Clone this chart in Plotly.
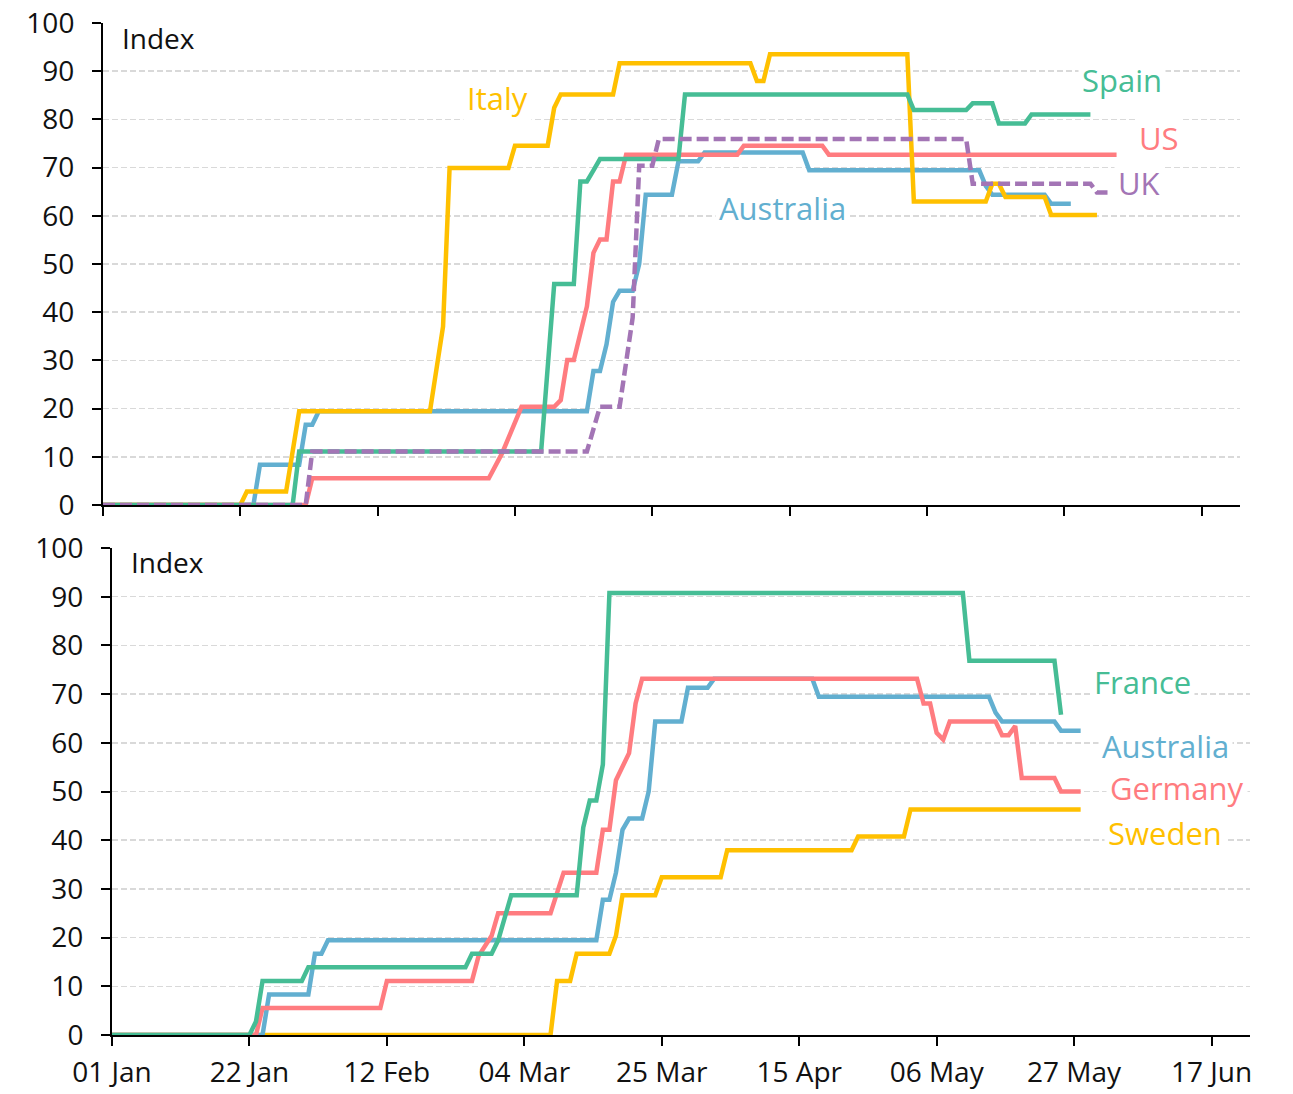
import plotly.graph_objects as go

W, H = 1293, 1094
FONT = "Open Sans"

# ---------------- Top panel data ----------------
italy_dates = ["2020-01-01", "2020-01-22", "2020-01-23", "2020-01-29", "2020-01-31", "2020-02-20",
               "2020-02-22", "2020-02-23", "2020-03-03", "2020-03-04", "2020-03-09", "2020-03-10",
               "2020-03-11", "2020-03-19", "2020-03-20", "2020-04-09", "2020-04-10", "2020-04-11",
               "2020-04-12", "2020-05-03", "2020-05-04", "2020-05-15", "2020-05-16", "2020-05-17",
               "2020-05-18", "2020-05-24", "2020-05-25", "2020-06-01"]
italy_vals = [0, 0, 2.78, 2.78, 19.44, 19.44,
              37.04, 69.91, 69.91, 74.54, 74.54, 82.41,
              85.19, 85.19, 91.67, 91.67, 87.96, 87.96,
              93.52, 93.52, 62.96, 62.96, 66.67, 66.67,
              63.89, 63.89, 60.19, 60.19]

spain_dates = ["2020-01-01", "2020-01-30", "2020-01-31", "2020-03-08", "2020-03-10", "2020-03-13",
               "2020-03-14", "2020-03-15", "2020-03-16", "2020-03-17", "2020-03-29", "2020-03-30",
               "2020-05-03", "2020-05-04", "2020-05-12", "2020-05-13", "2020-05-16", "2020-05-17",
               "2020-05-21", "2020-05-22", "2020-05-31"]
spain_vals = [0, 0, 11.11, 11.11, 45.83, 45.83,
              67.13, 67.13, 69.44, 71.76, 71.76, 85.19,
              85.19, 81.94, 81.94, 83.33, 83.33, 79.17,
              79.17, 81.02, 81.02]

us_dates = ["2020-01-01", "2020-02-01", "2020-02-02", "2020-02-29", "2020-03-02", "2020-03-05",
            "2020-03-10", "2020-03-11", "2020-03-12", "2020-03-13", "2020-03-15", "2020-03-16",
            "2020-03-17", "2020-03-18", "2020-03-19", "2020-03-20", "2020-03-21", "2020-04-07",
            "2020-04-08", "2020-04-20", "2020-04-21", "2020-06-04"]
us_vals = [0, 0, 5.56, 5.56, 10.65, 20.37,
           20.37, 21.76, 30.09, 30.09, 41.2, 52.31,
           55.09, 55.09, 67.13, 67.13, 72.69, 72.69,
           74.54, 74.54, 72.69, 72.69]

uk_dates = ["2020-01-01", "2020-02-01", "2020-02-02", "2020-03-15", "2020-03-17", "2020-03-20",
            "2020-03-22", "2020-03-23", "2020-03-25", "2020-03-26", "2020-05-12", "2020-05-13",
            "2020-05-31", "2020-06-01", "2020-06-03"]
uk_vals = [0, 0, 11.11, 11.11, 20.37, 20.37,
           38.89, 70.37, 70.37, 75.93, 75.93, 66.67,
           66.67, 64.81, 64.81]

# Australia appears in both panels
aus_dates = ["2020-01-01", "2020-01-24", "2020-01-25", "2020-01-31", "2020-02-01", "2020-02-02",
             "2020-02-03", "2020-03-15", "2020-03-16", "2020-03-17", "2020-03-18", "2020-03-19",
             "2020-03-20", "2020-03-22", "2020-03-23", "2020-03-24", "2020-03-28", "2020-03-29",
             "2020-04-01", "2020-04-02", "2020-04-17", "2020-04-18", "2020-05-14", "2020-05-15",
             "2020-05-16", "2020-05-24", "2020-05-25", "2020-05-28"]
aus_vals = [0, 0, 8.33, 8.33, 16.67, 16.67,
            19.44, 19.44, 27.78, 27.78, 33.33, 42.13,
            44.44, 44.44, 50.0, 64.35, 64.35, 71.3,
            71.3, 73.15, 73.15, 69.44, 69.44, 66.2,
            64.35, 64.35, 62.5, 62.5]

# ---------------- Bottom panel data ----------------
france_dates = ["2020-01-01", "2020-01-22", "2020-01-23", "2020-01-24", "2020-01-30", "2020-01-31",
                "2020-02-24", "2020-02-25", "2020-02-28", "2020-02-29", "2020-03-02", "2020-03-12",
                "2020-03-13", "2020-03-14", "2020-03-15", "2020-03-16", "2020-03-17", "2020-05-10",
                "2020-05-11", "2020-05-24", "2020-05-25"]
france_vals = [0, 0, 2.78, 11.11, 11.11, 13.89,
               13.89, 16.67, 16.67, 19.44, 28.7, 28.7,
               42.59, 48.15, 48.15, 55.56, 90.74, 90.74,
               76.85, 76.85, 65.74]

germany_dates = ["2020-01-01", "2020-01-23", "2020-01-24", "2020-02-11", "2020-02-12", "2020-02-25",
                 "2020-02-26", "2020-02-28", "2020-02-29", "2020-03-08", "2020-03-10", "2020-03-15",
                 "2020-03-16", "2020-03-17", "2020-03-18", "2020-03-20", "2020-03-21", "2020-03-22",
                 "2020-05-03", "2020-05-04", "2020-05-05", "2020-05-06", "2020-05-07", "2020-05-08",
                 "2020-05-15", "2020-05-16", "2020-05-17", "2020-05-18", "2020-05-19", "2020-05-24",
                 "2020-05-25", "2020-05-28"]
germany_vals = [0, 0, 5.56, 5.56, 11.11, 11.11,
                16.2, 20.37, 25.0, 25.0, 33.33, 33.33,
                42.13, 42.13, 52.31, 57.87, 68.06, 73.15,
                73.15, 68.06, 68.06, 62.04, 60.65, 64.35,
                64.35, 61.57, 61.57, 63.43, 52.78, 52.78,
                50.0, 50.0]

sweden_dates = ["2020-01-01", "2020-03-08", "2020-03-09", "2020-03-11", "2020-03-12", "2020-03-17",
                "2020-03-18", "2020-03-19", "2020-03-24", "2020-03-25", "2020-04-03", "2020-04-04",
                "2020-04-23", "2020-04-24", "2020-05-01", "2020-05-02", "2020-05-28"]
sweden_vals = [0, 0, 11.11, 11.11, 16.67, 16.67,
               20.37, 28.7, 28.7, 32.41, 32.41, 37.96,
               37.96, 40.74, 40.74, 46.3, 46.3]

tick_dates = ["2020-01-01", "2020-01-22", "2020-02-12", "2020-03-04", "2020-03-25",
              "2020-04-15", "2020-05-06", "2020-05-27", "2020-06-17"]
tick_text = ["01 Jan", "22 Jan", "12 Feb", "04 Mar", "25 Mar", "15 Apr", "06 May", "27 May", "17 Jun"]
y_ticks = list(range(0, 101, 10))

YELLOW = "#FFC000"
GREEN = "#46BD95"
PINK = "#FF7C80"
BLUE = "#62AFD0"
PURPLE = "#A375B5"
LW = 4.5

fig = go.Figure()


def add(dates, vals, color, xa, ya, dash="solid"):
    fig.add_trace(go.Scatter(x=dates, y=vals, mode="lines",
                             line=dict(color=color, width=LW, dash=dash),
                             xaxis=xa, yaxis=ya, showlegend=False,
                             hoverinfo="skip", cliponaxis=False))


# top panel (draw order matters for overlaps)
add(aus_dates, aus_vals, BLUE, "x", "y")
add(us_dates, us_vals, PINK, "x", "y")
add(italy_dates, italy_vals, YELLOW, "x", "y")
add(spain_dates, spain_vals, GREEN, "x", "y")
add(uk_dates, uk_vals, PURPLE, "x", "y", dash="12px,5px")

# bottom panel
add(sweden_dates, sweden_vals, YELLOW, "x2", "y2")
add(aus_dates, aus_vals, BLUE, "x2", "y2")
add(germany_dates, germany_vals, PINK, "x2", "y2")
add(france_dates, france_vals, GREEN, "x2", "y2")

x_range = ["2020-01-01", "2020-06-22 21:00"]


def fx(px):
    return px / W


def fy(py):
    return 1 - py / H


common_x = dict(range=x_range, tickvals=tick_dates, ticks="outside", ticklen=9, tickwidth=2,
                tickcolor="black", showline=True, linecolor="black", linewidth=2,
                showgrid=False, zeroline=False, fixedrange=True, automargin=False)
common_y = dict(range=[0, 100], tickvals=y_ticks, ticks="outside", ticklen=9, tickwidth=2,
                tickcolor="black", showline=True, linecolor="black", linewidth=2,
                showgrid=True, gridcolor="#D9D9D9", gridwidth=1.5, griddash="6px,3px",
                zeroline=False, tickfont=dict(family=FONT, size=28, color="#111111"),
                ticklabelstandoff=12, fixedrange=True, automargin=False)

fig.update_layout(
    width=W, height=H,
    margin=dict(l=0, r=0, t=0, b=0, autoexpand=False),
    paper_bgcolor="white", plot_bgcolor="white",
    font=dict(family=FONT, color="#111111"),
    xaxis=dict(domain=[fx(103), fx(1240)], anchor="y", showticklabels=False, **common_x),
    yaxis=dict(domain=[fy(505), fy(23)], anchor="x", **common_y),
    xaxis2=dict(domain=[fx(112), fx(1250)], anchor="y2", ticktext=tick_text,
                tickfont=dict(family=FONT, size=28, color="#111111"), ticklabelstandoff=2,
                **common_x),
    yaxis2=dict(domain=[fy(1035), fy(548)], anchor="x2", **common_y),
)


def ann(text, px, py, color, size=31, xanchor="center"):
    fig.add_annotation(text=text, x=fx(px), y=fy(py), xref="paper", yref="paper",
                       xanchor=xanchor, yanchor="middle", showarrow=False,
                       font=dict(family=FONT, size=size, color=color),
                       bgcolor="white", borderpad=3)


ann("Index", 118, 38, "#111111", size=28, xanchor="left")
ann("Italy", 497, 98, YELLOW)
ann("Spain", 1122, 80, GREEN)
ann("US", 1159, 138, PINK)
ann("UK", 1139, 183, PURPLE)
ann("Australia", 782, 208, BLUE)

ann("Index", 127, 562, "#111111", size=28, xanchor="left")
ann("France", 1142, 682, GREEN)
ann("Australia", 1165, 746, BLUE)
ann("Germany", 1177, 788, PINK)
ann("Sweden", 1165, 833, YELLOW)

fig.write_html(
    "out.html",
    config={"displayModeBar": False, "staticPlot": True},
    post_script="document.body.style.margin='0';document.body.style.overflow='hidden';",
)
